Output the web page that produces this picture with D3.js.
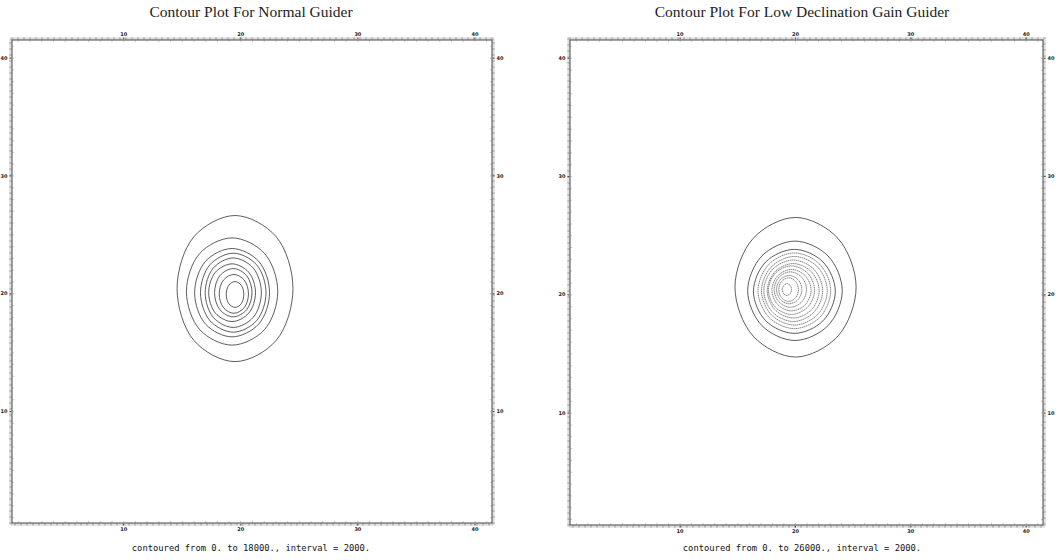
<!DOCTYPE html>
<html>
<head>
<meta charset="utf-8">
<script src="https://cdn.jsdelivr.net/npm/d3@7"></script>
<style>
  html, body { margin: 0; padding: 0; background: #fff; }
  svg { display: block; }
</style>
</head>
<body>
<div id="chart"></div>
<script>
// tick labels shared by both panels
const xTicks = [10, 20, 30, 40];
const yTicks = [10, 20, 30, 40];
const gridExtent = [0.5, 41.5];

// panel 1: normal guider, levels 2000..18000
const normalTitle = "Contour Plot For Normal Guider";
const normalNote = "contoured from 0. to 18000., interval = 2000.";
const normalLevels = [2000, 4000, 6000, 8000, 10000, 12000, 14000, 16000, 18000];
// each ring: [west, east, north, south] in grid units
const normalRings = [
  [14.6, 24.5, 26.6, 14.2],
  [15.4, 23.2, 24.7, 15.6],
  [16.1, 22.5, 23.8, 16.3],
  [16.6, 22.2, 23.4, 16.7],
  [17.0, 21.8, 23.0, 17.1],
  [17.3, 21.3, 22.5, 17.6],
  [17.8, 21.0, 22.1, 18.0],
  [18.2, 20.7, 21.6, 18.3],
  [18.8, 20.3, 21.0, 18.8]
];

// panel 2: low declination gain guider, levels 2000..26000
const lowDecTitle = "Contour Plot For Low Declination Gain Guider";
const lowDecNote = "contoured from 0. to 26000., interval = 2000.";
const lowDecLevels = [2000, 4000, 6000, 8000, 10000, 12000, 14000, 16000, 18000, 20000, 22000, 24000, 26000];
const lowDecRings = [
  [14.8, 25.3, 26.5, 14.7],
  [15.9, 24.1, 24.5, 16.1],
  [16.4, 23.5, 23.8, 16.7],
  [16.8, 23.1, 23.5, 17.1],
  [17.1, 22.8, 23.2, 17.4],
  [17.3, 22.4, 22.9, 17.7],
  [17.6, 22.1, 22.6, 18.0],
  [17.7, 21.7, 22.4, 18.3],
  [18.0, 21.4, 22.1, 18.6],
  [18.2, 21.0, 21.9, 18.9],
  [18.4, 20.6, 21.6, 19.2],
  [18.6, 20.3, 21.4, 19.4],
  [18.9, 19.7, 20.9, 19.9]
];

const width = 1058;
const height = 560;

const svg = d3.select("#chart")
  .append("svg")
  .attr("width", width)
  .attr("height", height)
  .attr("viewBox", [0, 0, width, height]);

function drawPanel(opts) {
  const x = d3.scaleLinear().domain(gridExtent).range([opts.left, opts.right]);
  const y = d3.scaleLinear().domain(gridExtent).range([opts.bottom, opts.top]);
  const g = svg.append("g");

  // title
  g.append("text")
    .attr("x", opts.titleX)
    .attr("y", 17)
    .attr("text-anchor", "middle")
    .attr("font-family", "'Liberation Serif', 'DejaVu Serif', serif")
    .attr("font-size", 15.5)
    .attr("fill", "#222")
    .text(opts.title);

  // scanned-looking frame: grey band plus thin dark line
  g.append("rect")
    .attr("x", opts.left - 1.5)
    .attr("y", opts.top - 1.5)
    .attr("width", opts.right - opts.left + 3)
    .attr("height", opts.bottom - opts.top + 3)
    .attr("fill", "none")
    .attr("stroke", "#bdbdbd")
    .attr("stroke-width", 2.5)
    .attr("stroke-dasharray", "3,1,1,1");
  g.append("rect")
    .attr("x", opts.left)
    .attr("y", opts.top)
    .attr("width", opts.right - opts.left)
    .attr("height", opts.bottom - opts.top)
    .attr("fill", "none")
    .attr("stroke", "#333")
    .attr("stroke-width", 0.9);

  // minor ticks every grid unit, pointing inward
  const minor = d3.range(1, 42);
  const axes = [
    [d3.axisTop(x), `translate(0,${opts.top})`],
    [d3.axisBottom(x), `translate(0,${opts.bottom})`],
    [d3.axisLeft(y), `translate(${opts.left},0)`],
    [d3.axisRight(y), `translate(${opts.right},0)`]
  ];
  axes.forEach(([ax, tr]) => {
    const a = g.append("g")
      .attr("transform", tr)
      .call(ax.tickValues(minor).tickSize(-1.8).tickFormat(""));
    a.select(".domain").remove();
    a.selectAll("line").attr("stroke", "#888").attr("stroke-width", 0.6);
  });

  // major tick labels, tiny as in the plotter output
  const labelAxes = [
    [d3.axisTop(x).tickValues(xTicks), `translate(0,${opts.top - 1})`],
    [d3.axisBottom(x).tickValues(xTicks), `translate(0,${opts.bottom + 1})`],
    [d3.axisLeft(y).tickValues(yTicks), `translate(${opts.left - 1},0)`],
    [d3.axisRight(y).tickValues(yTicks), `translate(${opts.right + 1},0)`]
  ];
  labelAxes.forEach(([ax, tr]) => {
    const a = g.append("g")
      .attr("transform", tr)
      .call(ax.tickSize(1.5).tickPadding(2));
    a.select(".domain").remove();
    a.selectAll("line").attr("stroke", "#444");
    a.selectAll("text")
      .attr("font-family", "'DejaVu Sans', sans-serif")
      .attr("font-size", 5)
      .attr("font-weight", "bold")
      .attr("fill", "#222");
  });

  // contour rings
  const k = opts.fullness;
  const line = d3.line()
    .x(p => x(p[0]))
    .y(p => y(p[1]))
    .curve(d3.curveCatmullRomClosed.alpha(0.5));

  const ringPoints = r => {
    const [w, e, n, s] = r;
    const cx = (w + e) / 2, cy = (n + s) / 2;
    const hx = (e - w) / 2, hy = (n - s) / 2;
    return [
      [e, cy], [cx + k * hx, cy + k * hy], [cx, n], [cx - k * hx, cy + k * hy],
      [w, cy], [cx - k * hx, cy - k * hy], [cx, s], [cx + k * hx, cy - k * hy]
    ];
  };

  g.append("g")
    .selectAll("path")
    .data(opts.rings.map((r, i) => ({ ring: r, level: opts.levels[i], i })))
    .join("path")
    .attr("d", d => line(ringPoints(d.ring)))
    .attr("fill", "none")
    .attr("stroke", d => d.i < opts.darkCount ? "#333" : "#555")
    .attr("stroke-width", d => d.i < opts.darkCount ? 0.8 : 0.7)
    .attr("stroke-dasharray", d => d.i < opts.darkCount ? null : opts.innerDash);

  // note under the plot
  g.append("text")
    .attr("x", opts.titleX)
    .attr("y", 551)
    .attr("text-anchor", "middle")
    .attr("font-family", "'DejaVu Sans Mono', 'Liberation Mono', monospace")
    .attr("font-size", 8.8)
    .attr("fill", "#111")
    .text(opts.note);
}

drawPanel({
  title: normalTitle, note: normalNote,
  levels: normalLevels, rings: normalRings,
  left: 12, right: 492, top: 40, bottom: 523, titleX: 251,
  fullness: 0.71, darkCount: 9, innerDash: null
});

drawPanel({
  title: lowDecTitle, note: lowDecNote,
  levels: lowDecLevels, rings: lowDecRings,
  left: 570, right: 1043, top: 40, bottom: 525, titleX: 802,
  fullness: 0.70, darkCount: 3, innerDash: "1.6,0.5"
});
</script>
</body>
</html>
